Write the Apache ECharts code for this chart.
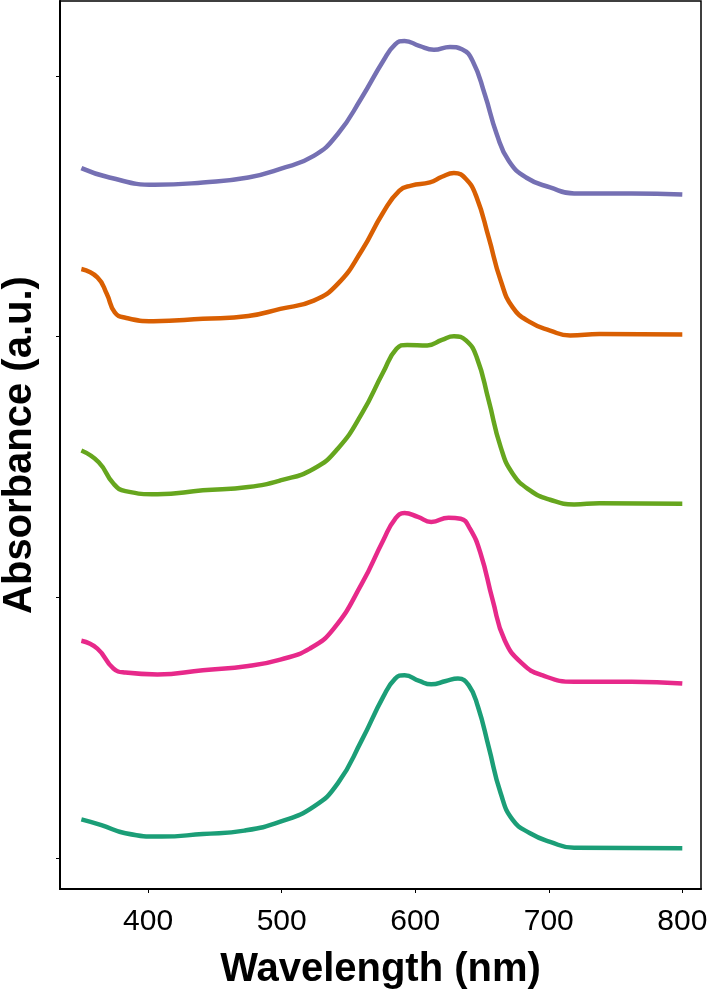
<!DOCTYPE html>
<html>
<head>
<meta charset="utf-8">
<script src="https://cdn.jsdelivr.net/npm/echarts@6/dist/echarts.min.js"></script>
<style>html,body{margin:0;padding:0;background:#fff}#c{width:708px;height:990px}</style>
</head>
<body>
<div id="c"></div>
<script>
// Wavelength (nm) and stacked/offset absorbance values (a.u.) for each spectrum
const wlPurple = [350,371,405,441,475,499,524,542,560,576,585,592,603,614,626,635,643,652,661,670,683,701,719,762,800];
const absPurple = [2.646,2.610,2.582,2.591,2.610,2.643,2.693,2.777,2.917,3.057,3.121,3.134,3.115,3.100,3.111,3.102,3.057,2.930,2.777,2.674,2.610,2.572,2.549,2.549,2.545];

const wlOrange = [350,362,369,375,383,404,441,475,499,524,542,560,576,588,597,611,620,629,638,646,655,664,673,686,701,716,738,800];
const absOrange = [2.259,2.227,2.164,2.093,2.072,2.059,2.068,2.079,2.106,2.138,2.202,2.330,2.476,2.559,2.579,2.591,2.613,2.627,2.604,2.534,2.380,2.215,2.112,2.055,2.023,2.004,2.010,2.008];

const wlGreen = [350,363,374,383,407,441,475,499,524,542,560,576,586,594,609,620,629,638,646,655,664,673,686,701,719,738,800];
const absGreen = [1.563,1.518,1.436,1.407,1.395,1.410,1.423,1.448,1.493,1.570,1.704,1.863,1.953,1.968,1.966,1.987,2.001,1.985,1.921,1.755,1.576,1.474,1.410,1.374,1.356,1.361,1.359];

const wlPink = [350,362,374,383,407,441,475,499,521,539,560,576,585,592,602,612,625,634,641,649,658,667,680,695,719,762,800];
const absPink = [0.833,0.803,0.727,0.711,0.704,0.720,0.736,0.761,0.803,0.880,1.052,1.218,1.301,1.323,1.308,1.289,1.305,1.301,1.263,1.167,0.989,0.835,0.746,0.701,0.676,0.676,0.669];

const wlTeal = [350,365,383,410,441,472,499,524,542,560,576,585,592,603,612,623,632,640,647,655,664,673,686,701,719,800];
const absTeal = [0.148,0.126,0.095,0.082,0.092,0.105,0.139,0.197,0.286,0.452,0.618,0.688,0.701,0.679,0.666,0.679,0.688,0.663,0.580,0.426,0.248,0.146,0.095,0.062,0.039,0.037];

const xTicks = [400,500,600,700,800];
const yTicks = [0,1,2,3];

function pairs(xs, ys){ return xs.map((x,i)=>[x, ys[i]]); }

const seriesDefs = [
  {name:'purple', xs:wlPurple, ys:absPurple, color:'#7570b3'},
  {name:'orange', xs:wlOrange, ys:absOrange, color:'#d95f02'},
  {name:'green',  xs:wlGreen,  ys:absGreen,  color:'#66a61e'},
  {name:'pink',   xs:wlPink,   ys:absPink,   color:'#e7298a'},
  {name:'teal',   xs:wlTeal,   ys:absTeal,   color:'#1b9e77'}
];

const chart = echarts.init(document.getElementById('c'), null, {renderer:'canvas'});
chart.setOption({
  animation:false,
  backgroundColor:'#fff',
  grid:{left:60, right:7, top:1, bottom:101, show:true, borderColor:'#000', borderWidth:1.5,
        containLabel:false, outerBoundsMode:'none'},
  xAxis:{
    type:'value', min:334, max:814,
    name:'Wavelength (nm)', nameLocation:'middle', nameGap:61,
    nameTextStyle:{fontFamily:'Liberation Sans', fontWeight:'bold', fontSize:40, color:'#000'},
    axisLine:{show:true, onZero:false, lineStyle:{color:'#000', width:2}},
    axisTick:{show:true, inside:false, length:4, customValues:xTicks, lineStyle:{color:'#000'}},
    axisLabel:{show:true, customValues:xTicks, margin:18, fontFamily:'Liberation Sans', fontSize:30, color:'#000'},
    splitLine:{show:false}
  },
  yAxis:{
    type:'value', min:-0.119, max:3.287,
    name:'Absorbance (a.u.)', nameLocation:'middle', nameGap:20,
    nameTextStyle:{fontFamily:'Liberation Sans', fontWeight:'bold', fontSize:40, color:'#000'},
    axisLine:{show:true, onZero:false, lineStyle:{color:'#000', width:2}},
    axisTick:{show:true, inside:false, length:4, customValues:yTicks, lineStyle:{color:'#000'}},
    axisLabel:{show:false},
    splitLine:{show:false}
  },
  series: seriesDefs.map(s=>({
    type:'line', name:s.name, data:pairs(s.xs, s.ys),
    smooth:0.5, showSymbol:false, symbol:'none',
    lineStyle:{color:s.color, width:4.5}, itemStyle:{color:s.color}
  }))
});
</script>
</body>
</html>
